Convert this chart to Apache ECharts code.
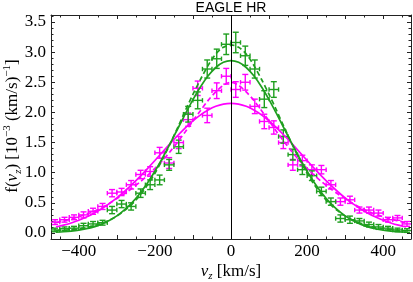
<!DOCTYPE html>
<html><head><meta charset="utf-8">
<script src="https://cdn.jsdelivr.net/npm/echarts@6/dist/echarts.min.js"></script>
<style>html,body{margin:0;padding:0;background:#fff}#c{width:413px;height:282px}</style>
</head><body><div id="c"></div>
<script>
// ---- data ----
const vz = [-462.5,-437.5,-412.5,-387.5,-362.5,-337.5,-312.5,-287.5,-262.5,-237.5,-212.5,-187.5,-162.5,-137.5,-112.5,-87.5,-62.5,-37.5,-12.5,12.5,37.5,62.5,87.5,112.5,137.5,162.5,187.5,212.5,237.5,262.5,287.5,312.5,337.5,362.5,387.5,412.5,437.5,462.5];
const binHalf = 12.5;
const greenVals = [0.05,0.07,0.08,0.12,0.15,0.17,0.38,0.48,0.44,0.66,0.80,0.88,1.13,1.43,1.97,2.20,2.72,2.89,3.13,3.16,2.94,2.72,2.22,2.38,1.60,1.30,1.05,0.95,0.69,0.52,0.24,0.22,0.20,0.14,0.10,0.08,0.05,0.04];
const greenErr  = [0.03,0.03,0.03,0.04,0.04,0.04,0.06,0.06,0.06,0.07,0.08,0.08,0.09,0.11,0.13,0.14,0.15,0.16,0.17,0.17,0.16,0.15,0.14,0.13,0.11,0.09,0.08,0.08,0.07,0.06,0.06,0.06,0.04,0.04,0.04,0.03,0.03,0.03];
const magentaVals = [0.18,0.22,0.26,0.30,0.36,0.44,0.66,0.68,0.80,0.97,1.02,1.33,1.16,1.50,1.88,2.40,1.95,2.36,2.60,2.38,2.50,2.10,1.85,1.75,1.50,1.13,1.20,1.05,1.05,0.80,0.52,0.55,0.38,0.38,0.33,0.22,0.25,0.15];
const magentaErr  = [0.04,0.04,0.04,0.05,0.05,0.05,0.06,0.06,0.07,0.07,0.08,0.09,0.09,0.10,0.11,0.12,0.12,0.13,0.13,0.13,0.13,0.12,0.12,0.11,0.10,0.09,0.09,0.08,0.07,0.07,0.06,0.06,0.05,0.05,0.05,0.04,0.04,0.04];

const curveV = [-460,-440,-420,-400,-380,-360,-340,-320,-300,-280,-260,-240,-220,-200,-180,-160,-140,-120,-100,-80,-60,-40,-20,0,20,40,60,80,100,120,140,160,180,200,220,240,260,280,300,320,340,360,380,400,420,440,460];
const greenSolid = [0.012,0.020,0.031,0.047,0.070,0.102,0.147,0.206,0.283,0.382,0.504,0.651,0.825,1.023,1.244,1.481,1.729,1.975,2.212,2.426,2.607,2.745,2.831,2.860,2.831,2.745,2.607,2.426,2.212,1.975,1.729,1.481,1.244,1.023,0.825,0.651,0.504,0.382,0.283,0.206,0.147,0.102,0.070,0.047,0.031,0.020,0.012];
const greenDashed = [0.035,0.045,0.055,0.07,0.09,0.12,0.16,0.21,0.28,0.37,0.48,0.62,0.79,0.99,1.22,1.48,1.75,2.03,2.30,2.55,2.78,2.97,3.08,3.12,3.08,2.97,2.78,2.55,2.30,2.03,1.75,1.48,1.22,0.99,0.79,0.62,0.48,0.37,0.28,0.21,0.16,0.12,0.09,0.07,0.055,0.045,0.035];
const magentaSolid = [0.099,0.129,0.166,0.210,0.264,0.327,0.401,0.486,0.581,0.688,0.805,0.931,1.064,1.202,1.343,1.482,1.617,1.744,1.859,1.959,2.040,2.101,2.138,2.150,2.138,2.101,2.040,1.959,1.859,1.744,1.617,1.482,1.343,1.202,1.064,0.931,0.805,0.688,0.581,0.486,0.401,0.327,0.264,0.210,0.166,0.129,0.099];
const magentaDashed = [0.17,0.20,0.23,0.27,0.31,0.36,0.42,0.49,0.57,0.65,0.74,0.84,0.95,1.07,1.20,1.35,1.51,1.68,1.86,2.03,2.20,2.34,2.45,2.50,2.45,2.34,2.20,2.03,1.86,1.68,1.51,1.35,1.20,1.07,0.95,0.84,0.74,0.65,0.57,0.49,0.42,0.36,0.31,0.27,0.23,0.20,0.17];

const xLabels = [-400,-200,0,200,400];
const xMajor = [-400,-300,-200,-100,0,100,200,300,400];
const xMinor = [-450,-350,-250,-150,-50,50,150,250,350,450];
const yLabels = [0,0.5,1,1.5,2,2.5,3,3.5];
const yMinor = [-0.1,0.1,0.2,0.3,0.4,0.6,0.7,0.8,0.9,1.1,1.2,1.3,1.4,1.6,1.7,1.8,1.9,2.1,2.2,2.3,2.4,2.6,2.7,2.8,2.9,3.1,3.2,3.3,3.4,3.6];

// ---- chart ----
const GREEN = '#1f9f1f', MAG = '#ff00ff', FRAME = '#222';
const SERIF = 'Liberation Serif';
const XMIN = -473, XMAX = 473, YMIN = -0.1, YMAX = 3.616;

function xAx(pos, ticks, len, line, labels) {
  return {type:'value', min:XMIN, max:XMAX, position:pos,
    axisLine:{show:line, onZero:false, lineStyle:{color:FRAME, width:1}},
    axisTick:{show:true, inside:true, length:len, customValues:ticks, lineStyle:{color:FRAME, width:1}},
    axisLabel: labels ? {show:true, customValues:labels, margin:4, color:'#000', fontFamily:SERIF, fontSize:17,
      formatter: v => String(v).replace('-', '\u2212')} : {show:false},
    splitLine:{show:false}};
}
function yAx(pos, ticks, len, line, labels) {
  return {type:'value', min:YMIN, max:YMAX, position:pos,
    axisLine:{show:line, onZero:false, lineStyle:{color:FRAME, width:1}},
    axisTick:{show:true, inside:true, length:len, customValues:ticks, lineStyle:{color:FRAME, width:1}},
    axisLabel: labels ? {show:true, customValues:labels, margin:5, color:'#000', fontFamily:SERIF, fontSize:17,
      formatter: v => v.toFixed(1)} : {show:false},
    splitLine:{show:false}};
}

function makeErr(color) {
  return function (params, api) {
    const x = api.value(0), y = api.value(1), e = api.value(2);
    const pl = api.coord([x - binHalf, y]);
    const pr = api.coord([x + binHalf, y]);
    const pt = api.coord([x, y + e]);
    const pb = api.coord([x, y - e]);
    const st = {stroke: color, lineWidth: 1.4};
    const cv = 3, ch = 2.2;
    const seg = (x1, y1, x2, y2) => ({type:'line', shape:{x1, y1, x2, y2}, style: st});
    return {type:'group', children:[
      seg(pl[0], pl[1], pr[0], pr[1]),
      seg(pt[0], pt[1], pb[0], pb[1]),
      seg(pt[0]-cv, pt[1], pt[0]+cv, pt[1]),
      seg(pb[0]-cv, pb[1], pb[0]+cv, pb[1]),
      seg(pl[0], pl[1]-ch, pl[0], pl[1]+ch),
      seg(pr[0], pr[1]-ch, pr[0], pr[1]+ch)
    ]};
  };
}
function lineSeries(name, ys, color, dashed) {
  return {type:'line', name, data: curveV.map((v, i) => [v, ys[i]]), smooth:0.3, showSymbol:false,
    lineStyle:{color, width:1.7, type: dashed ? [5,3] : 'solid'}, silent:true, z:3};
}

const chart = echarts.init(document.getElementById('c'), null, {renderer:'canvas'});
chart.setOption({
  animation:false,
  backgroundColor:'#fff',
  graphic:[
    {type:'text', x:231, y:1, style:{text:'EAGLE HR', align:'center', verticalAlign:'top',
      fontFamily:'Liberation Sans', fontSize:14, fill:'#000'}},
    {type:'text', x:231, y:262, style:{
      text:'{i|v}{s|z}{n| [km/s]}', align:'center', verticalAlign:'top', rich:{
        i:{fontFamily:SERIF, fontStyle:'italic', fontSize:17, lineHeight:20, verticalAlign:'middle', fill:'#000'},
        s:{fontFamily:SERIF, fontStyle:'italic', fontSize:11, lineHeight:20, verticalAlign:'bottom', fill:'#000'},
        n:{fontFamily:SERIF, fontSize:17, lineHeight:20, verticalAlign:'middle', fill:'#000'}}}},
    {type:'text', x:2, y:126, rotation:Math.PI/2, style:{
      text:'{n|f(}{i|v}{s|z}{n|) [10}{p|\u22123}{n| (km/s)}{p|\u22121}{n|]}', align:'center', verticalAlign:'top', rich:{
        n:{fontFamily:SERIF, fontSize:17, lineHeight:22, verticalAlign:'middle', fill:'#000'},
        i:{fontFamily:SERIF, fontStyle:'italic', fontSize:17, lineHeight:22, verticalAlign:'middle', fill:'#000'},
        s:{fontFamily:SERIF, fontStyle:'italic', fontSize:11, lineHeight:22, verticalAlign:'bottom', fill:'#000'},
        p:{fontFamily:SERIF, fontSize:11, lineHeight:22, verticalAlign:'top', fill:'#000'}}}}
  ],
  grid:{left:51, right:2, top:15, bottom:43},
  xAxis:[xAx('bottom', xMajor, 4, true, xLabels), xAx('bottom', xMinor, 2.5, false, null),
         xAx('top', xMajor, 4, true, null), xAx('top', xMinor, 2.5, false, null)],
  yAxis:[yAx('left', yLabels, 4, true, yLabels), yAx('left', yMinor, 2.5, false, null),
         yAx('right', yLabels, 4, true, null), yAx('right', yMinor, 2.5, false, null)],
  series:[
    {type:'custom', name:'magenta pts', renderItem: makeErr(MAG), data: vz.map((v,i)=>[v, magentaVals[i], magentaErr[i]]),
      encode:{x:0, y:1}, clip:true, z:2,
      markLine:{silent:true, symbol:['none','none'], label:{show:false}, lineStyle:{color:'#000', width:1, type:'solid'}, data:[{xAxis:0}]}},
    {type:'custom', name:'green pts', renderItem: makeErr(GREEN), data: vz.map((v,i)=>[v, greenVals[i], greenErr[i]]),
      encode:{x:0, y:1}, clip:true, z:2},
    lineSeries('mS', magentaSolid, MAG, false),
    lineSeries('mD', magentaDashed, MAG, true),
    lineSeries('gS', greenSolid, GREEN, false),
    lineSeries('gD', greenDashed, GREEN, true)
  ]
});
</script></body></html>
